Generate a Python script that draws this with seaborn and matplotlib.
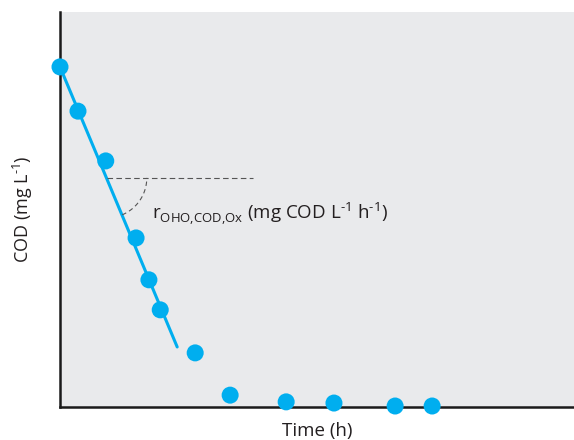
import matplotlib
matplotlib.use("Agg")
import matplotlib.pyplot as plt
import seaborn as sns
import pandas as pd
import numpy as np

# data (arbitrary units, no tick labels in the original)
time_h = [0.0, 0.35, 0.89, 1.48, 1.73, 1.95, 2.63, 3.31, 4.40, 5.33, 6.52, 7.24]
cod = [86.1, 74.9, 62.3, 42.8, 32.2, 24.6, 13.7, 3.0, 1.3, 1.0, 0.25, 0.25]

# fitted initial slope line
fit_x = [0.0, 2.28]
fit_y = [86.1, 15.2]

# dashed reference for the slope angle
ref_x = [0.91, 3.75]
ref_y = [58.0, 58.0]

BLUE = "#00aeef"
GREY_BG = "#e9eaec"
TXT = "#231f20"

sns.set_style("white")
plt.rcParams["font.family"] = ["Open Sans", "DejaVu Sans"]
plt.rcParams["mathtext.fontset"] = "custom"
plt.rcParams["mathtext.rm"] = "Open Sans"

fig = plt.figure(figsize=(5.74, 4.40), dpi=100)
ax = fig.add_axes([60 / 574, 33 / 440, 514 / 574, 395 / 440])
ax.set_facecolor(GREY_BG)

df = pd.DataFrame({"Time": time_h, "COD": cod})
sns.lineplot(x=fit_x, y=fit_y, ax=ax, color=BLUE, linewidth=2.2)
sns.lineplot(x=ref_x, y=ref_y, ax=ax, color="#555555", linewidth=0.8,
             linestyle=(0, (5, 3)))

# arc between horizontal and slope line (circular on screen)
xs = 514 / 10.0   # px per x-unit
ys = 395 / 100.0  # px per y-unit
r_px = 40
ang = np.radians(np.linspace(-67.3, 0, 40))
arc_x = ref_x[0] + r_px * np.cos(ang) / xs
arc_y = ref_y[0] + r_px * np.sin(ang) / ys
ax.plot(arc_x, arc_y, color="#555555", linewidth=0.8, linestyle=(0, (4, 3)))

sns.scatterplot(data=df, x="Time", y="COD", ax=ax, color=BLUE, s=150,
                edgecolor="none", clip_on=False, zorder=5)

ax.set_xlim(0, 10)
ax.set_ylim(0, 100)
ax.set_xticks([])
ax.set_yticks([])
for side in ["top", "right"]:
    ax.spines[side].set_visible(False)
for side in ["left", "bottom"]:
    ax.spines[side].set_color("#1a1a1a")
    ax.spines[side].set_linewidth(1.8)

ax.set_xlabel("Time (h)", fontsize=13.5, color=TXT, labelpad=11)
ax.set_ylabel(r"COD (mg L$^{\mathregular{\text{-}1}}$)", fontsize=13, color=TXT,
              labelpad=18)

ax.text(1.79, 49.0,
        r"r$_{\mathregular{OHO{,}COD{,}Ox}}$ (mg COD L$^{\mathregular{\text{-}1}}$ h$^{\mathregular{\text{-}1}}$)",
        fontsize=13.5, color=TXT, va="center", ha="left")

fig.savefig("out.png", dpi=100)
